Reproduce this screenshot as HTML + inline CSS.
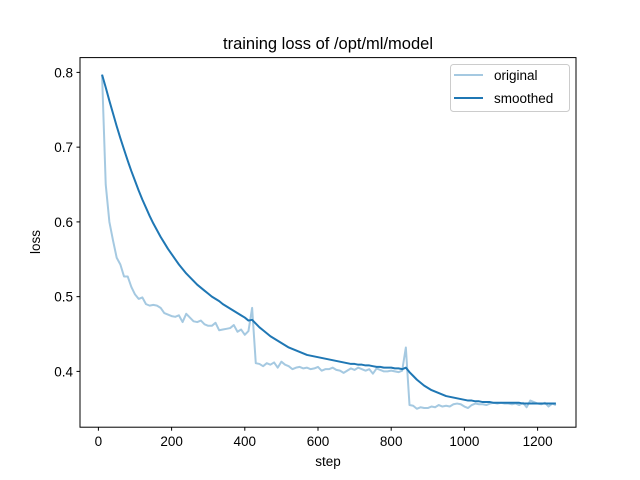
<!DOCTYPE html>
<html><head><meta charset="utf-8"><style>
body{margin:0;background:#fff}
svg{display:block;font-family:"Liberation Sans","DejaVu Sans",sans-serif}
</style></head><body>
<svg id="chart" width="640" height="480">
<rect width="640" height="480" fill="#fff"/>
<text x="328" y="49" text-anchor="middle" font-size="16.5">training loss of /opt/ml/model</text>
<g id="grid"></g>
<g id="series"></g>
<rect x="80" y="57.6" width="496" height="369.6" fill="none" stroke="#000" stroke-width="1"/>
<text x="328" y="466" text-anchor="middle" font-size="13.5">step</text>
<text x="40" y="242" text-anchor="middle" font-size="13.5" transform="rotate(-90 40 242)">loss</text>
<g>
<rect x="450.5" y="64.5" width="119" height="47" rx="3" fill="#fff" fill-opacity="0.8" stroke="#ccc"/>
<line x1="454" y1="75" x2="483" y2="75" stroke="#1f77b4" stroke-opacity="0.4" stroke-width="2"/>
<text x="494" y="80" font-size="13.5">original</text>
<line x1="454" y1="98" x2="483" y2="98" stroke="#1f77b4" stroke-width="2"/>
<text x="494" y="103" font-size="13.5">smoothed</text>
</g>
</svg>
<script>
const steps=[];for(let s=10;s<=1250;s+=10)steps.push(s);
const original=[.797,.65,.60,.575,.552,.543,.527,.527,.513,.503,.497,.499,.490,.488,.489,.488,.485,.478,.476,.474,.473,.475,.466,.477,.472,.467,.466,.468,.463,.461,.461,.465,.455,.456,.457,.458,.462,.453,.456,.449,.454,.485,.411,.410,.407,.411,.409,.412,.405,.413,.409,.407,.403,.405,.406,.404,.405,.403,.404,.406,.401,.403,.403,.405,.402,.401,.398,.401,.404,.402,.405,.403,.401,.403,.397,.404,.402,.400,.400,.401,.400,.399,.401,.432,.355,.354,.350,.352,.351,.351,.353,.352,.355,.353,.354,.353,.356,.357,.356,.353,.351,.355,.357,.356,.356,.355,.357,.358,.357,.358,.357,.357,.356,.357,.355,.358,.352,.361,.359,.357,.356,.358,.353,.357,.355];
const smoothed=[.797,.780,.762,.745,.728,.712,.697,.682,.668,.655,.642,.630,.619,.608,.598,.589,.580,.572,.564,.557,.550,.543,.537,.531,.526,.521,.516,.512,.508,.504,.500,.497,.494,.490,.487,.484,.481,.478,.475,.472,.468,.469,.464,.459,.455,.451,.447,.444,.441,.438,.435,.432,.430,.428,.426,.424,.422,.421,.420,.419,.418,.417,.416,.415,.414,.413,.412,.411,.410,.410,.409,.409,.408,.408,.407,.406,.406,.405,.405,.405,.404,.404,.403,.405,.399,.394,.389,.385,.381,.378,.375,.373,.371,.369,.367,.366,.365,.364,.363,.362,.361,.361,.360,.360,.359,.359,.359,.358,.358,.358,.358,.358,.358,.358,.358,.357,.357,.357,.357,.357,.357,.357,.357,.357,.357];
const xTicks=[0,200,400,600,800,1000,1200];
const yTicks=[0.4,0.5,0.6,0.7,0.8];
const NS='http://www.w3.org/2000/svg';
const xs=s=>98.4+s*0.366;
const ys=v=>371.4-(v-0.4)*747.5;
const g=document.getElementById('grid'),ser=document.getElementById('series');
function mk(t,a,p){const e=document.createElementNS(NS,t);for(const k in a)e.setAttribute(k,a[k]);p.appendChild(e);return e;}
xTicks.forEach(t=>{
 const l=mk('line',{x1:xs(t),x2:xs(t),y1:427.2,y2:430.7,stroke:'#000'},g);
 
 
 const tx=mk('text',{x:xs(t),y:446,'text-anchor':'middle','font-size':'13.5'},g);
 tx.textContent=t;
 
 
});
yTicks.forEach(t=>{
 const l=mk('line',{x1:76.5,x2:80,y1:ys(t),y2:ys(t),stroke:'#000'},g);
 
 
 const tx=mk('text',{x:73,y:ys(t)+5,'text-anchor':'end','font-size':'13.5'},g);
 tx.textContent=t.toFixed(1);
 
 
});
const p1=mk('polyline',{points:steps.map((s,i)=>xs(s)+','+ys(original[i])).join(' '),fill:'none',stroke:'#1f77b4','stroke-opacity':0.4,'stroke-width':2,'stroke-linejoin':'round'},ser);


const p2=mk('polyline',{points:steps.map((s,i)=>xs(s)+','+ys(smoothed[i])).join(' '),fill:'none',stroke:'#1f77b4','stroke-width':2,'stroke-linejoin':'round'},ser);


</script>
</body></html>
